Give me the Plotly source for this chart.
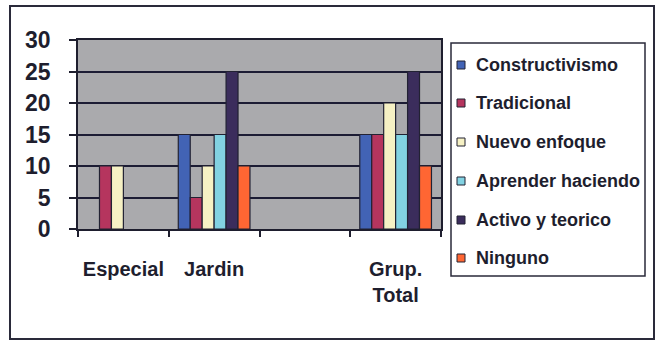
import plotly.graph_objects as go

# Data
categories = ["Especial", "Jardin", "", "Grup.<br>Total"]
series_names = ["Constructivismo", "Tradicional", "Nuevo enfoque",
                "Aprender haciendo", "Activo y teorico", "Ninguno"]
constructivismo = [0, 15, 0, 15]
tradicional = [10, 5, 0, 15]
nuevo_enfoque = [10, 10, 0, 20]
aprender_haciendo = [0, 15, 0, 15]
activo_y_teorico = [0, 25, 0, 25]
ninguno = [0, 10, 0, 10]
y_ticks = [0, 5, 10, 15, 20, 25, 30]

series_values = [constructivismo, tradicional, nuevo_enfoque,
                 aprender_haciendo, activo_y_teorico, ninguno]
colors = ["#4263B5", "#B5355E", "#F6F1C4", "#82D2E2", "#3B2D5C", "#FF6633"]

W, H = 657, 341
L, R, T, B = 78, 441, 40, 229  # plot area in pixels
FONT = "Liberation Sans, Arial, sans-serif"
INK = "#1E1E2E"

x_pos = list(range(len(categories)))

fig = go.Figure()
for name, vals, col in zip(series_names, series_values, colors):
    # zero-height bars get no outline so nothing is drawn for them
    outline = [1.2 if v else 0 for v in vals]
    fig.add_trace(go.Bar(
        x=x_pos, y=vals, name=name,
        marker=dict(color=col, line=dict(color="#222233", width=outline)),
        showlegend=False,
    ))


def px_x(px):
    return (px - L) / (R - L)


def px_y(py):
    return (B - py) / (B - T)


shapes = []
annotations = []

# Outer frame of the chart
shapes.append(dict(type="rect", xref="paper", yref="paper",
                   x0=px_x(10), x1=px_x(654), y0=px_y(339), y1=px_y(6),
                   line=dict(color="#2A2A3A", width=2), fillcolor="rgba(0,0,0,0)",
                   layer="below"))

# Legend box
shapes.append(dict(type="rect", xref="paper", yref="paper",
                   x0=px_x(451), x1=px_x(645), y0=px_y(276), y1=px_y(43),
                   line=dict(color="#2A2A3A", width=1.5), fillcolor="white"))

item_y = [65, 103, 142, 181, 220, 258]
for name, col, cy in zip(series_names, colors, item_y):
    shapes.append(dict(type="rect", xref="paper", yref="paper",
                       x0=px_x(457), x1=px_x(465), y0=px_y(cy + 4), y1=px_y(cy - 4),
                       line=dict(color="#222233", width=1), fillcolor=col))
    annotations.append(dict(xref="paper", yref="paper", x=px_x(474), y=px_y(cy),
                            xanchor="left", yanchor="middle", showarrow=False,
                            text=name,
                            font=dict(family=FONT, size=18, color=INK, weight="bold")))

fig.update_layout(
    width=W, height=H,
    margin=dict(l=L, r=W - R, t=T, b=H - B, pad=0),
    paper_bgcolor="white",
    plot_bgcolor="#AAAAAD",
    barmode="group",
    bargap=0.21,
    bargroupgap=0,
    shapes=shapes,
    annotations=annotations,
    xaxis=dict(
        range=[-0.5, len(categories) - 0.5],
        tickmode="array", tickvals=x_pos, ticktext=categories,
        ticks="", showgrid=False, zeroline=False,
        showline=True, linecolor=INK, linewidth=1.5, mirror=True,
        tickfont=dict(family=FONT, size=20, color=INK, weight="bold"),
        ticklabelstandoff=21,
        minor=dict(tickmode="array",
                   tickvals=[i - 0.5 for i in range(len(categories) + 1)],
                   ticks="outside", ticklen=6, tickcolor=INK, tickwidth=1.5,
                   showgrid=False),
    ),
    yaxis=dict(
        range=[0, 30], tickmode="array", tickvals=y_ticks,
        ticks="outside", ticklen=7, tickcolor=INK, tickwidth=1.5,
        showgrid=True, gridcolor="#1C1C34", gridwidth=1.8,
        zeroline=False,
        showline=True, linecolor=INK, linewidth=1.5, mirror=True,
        tickfont=dict(family=FONT, size=23, color=INK, weight="bold"),
        ticklabelstandoff=14,
    ),
)

fig.write_html("out.html")
